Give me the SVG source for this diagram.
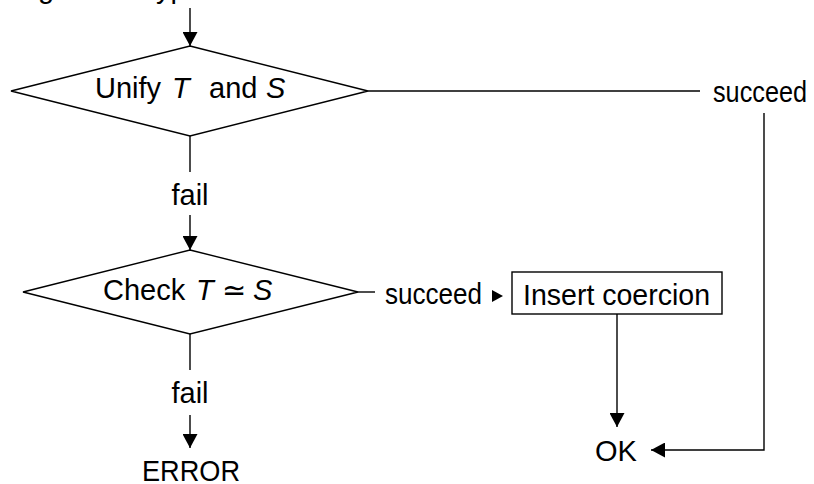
<svg xmlns="http://www.w3.org/2000/svg" width="814" height="484" viewBox="0 0 814 484">
  <defs>
    <style>
      .t { font-family: "Liberation Sans", Arial, sans-serif; font-size: 29px; fill: #000; }
      .it { font-style: italic; }
      .ln { fill: none; stroke: #000; stroke-width: 1.4; }
      .shape { fill: #fff; stroke: #000; stroke-width: 1.4; }
    </style>
    <marker id="arr" viewBox="0 0 14 15" refX="14" refY="7.5" markerWidth="14" markerHeight="15" markerUnits="userSpaceOnUse" orient="auto">
      <path d="M0,0 L14,7.5 L0,15 Z" fill="#000"/>
    </marker>
  </defs>
  <rect width="814" height="484" fill="#fff"/>

  <g id="start">
    <text class="t" y="-2"><tspan x="9">Argument</tspan><tspan x="148">type</tspan></text>
  </g>

  <g id="connectors">
    <line class="ln" x1="190" y1="8" x2="190" y2="46" marker-end="url(#arr)"/>
    <line class="ln" x1="368" y1="91" x2="700" y2="91"/>
    <polyline class="ln" points="764,113 764,450 651,450" marker-end="url(#arr)"/>
    <line class="ln" x1="190" y1="136" x2="190" y2="172"/>
    <line class="ln" x1="190" y1="215" x2="190" y2="250" marker-end="url(#arr)"/>
    <line class="ln" x1="358" y1="292" x2="375" y2="292"/>
    <path d="M492,290 L503,296 L492,302 Z" fill="#000"/>
    <line class="ln" x1="190" y1="334" x2="190" y2="370"/>
    <line class="ln" x1="190" y1="415" x2="190" y2="448" marker-end="url(#arr)"/>
    <line class="ln" x1="617" y1="314" x2="617" y2="427" marker-end="url(#arr)"/>
    <text class="t" x="713" y="102" textLength="94" lengthAdjust="spacingAndGlyphs">succeed</text>
    <text class="t" x="190" y="205" text-anchor="middle">fail</text>
    <text class="t" x="385" y="304" textLength="97" lengthAdjust="spacingAndGlyphs">succeed</text>
    <text class="t" x="190" y="403" text-anchor="middle">fail</text>
  </g>

  <g id="unify">
    <polygon class="shape" points="190,46 368,91 190,136 11,91"/>
    <text class="t" y="98"><tspan x="95">Unify</tspan><tspan x="172" class="it">T</tspan><tspan x="209">and</tspan><tspan x="266" class="it">S</tspan></text>
  </g>

  <g id="check">
    <polygon class="shape" points="190,250 358,292 190,334 23,292"/>
    <text class="t" y="300"><tspan x="103">Check</tspan><tspan x="196" class="it">T</tspan><tspan x="222">≃</tspan><tspan x="253" class="it">S</tspan></text>
  </g>

  <g id="insert">
    <rect class="shape" x="512" y="272" width="210" height="42"/>
    <text class="t" x="523" y="305" textLength="187" lengthAdjust="spacingAndGlyphs">Insert coercion</text>
  </g>

  <g id="ok">
    <text class="t" x="595" y="461">OK</text>
  </g>

  <g id="error">
    <text class="t" x="191" y="481" text-anchor="middle" textLength="98" lengthAdjust="spacingAndGlyphs">ERROR</text>
  </g>
</svg>
